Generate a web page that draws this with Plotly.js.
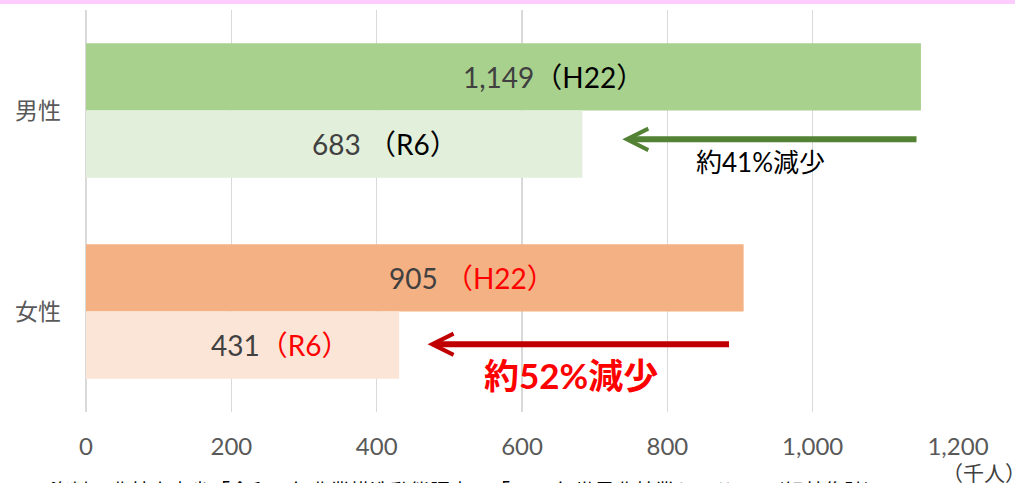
<!DOCTYPE html>
<html><head><meta charset="utf-8">
<script src="https://cdn.plot.ly/plotly-3.0.1.min.js"></script>
<style>html,body{margin:0;padding:0;background:#fff;}#chart{width:1015px;height:483px;}</style>
</head><body><div id="chart"></div>
<script>
const categories = ["男性", "女性"];
const seriesNames = ["H22", "R6"];
const valuesH22 = [1149, 905];
const valuesR6 = [683, 431];
const colorsH22 = ["#A9D18E", "#F4B183"];
const colorsR6 = ["#E2EFDA", "#FBE5D6"];
const xTicks = [0, 200, 400, 600, 800, 1000, 1200];
const xTickLabels = ["0", "200", "400", "600", "800", "1,000", "1,200"];
const reductionLabels = ["約41%減少", "約52%減少"];
const unitLabel = "（千人）";
const sourceText = "資料：農林水産省「令和６年農業構造動態調査」、「2010年世界農林業センサス」（組替集計）";

const fmt = v => v.toLocaleString("en-US");
const F = "Lato, 'Noto Sans CJK JP', sans-serif";

const traces = [
  {type:"bar", orientation:"h", name:seriesNames[0], y:categories, x:valuesH22,
   marker:{color:colorsH22}, hoverinfo:"none"},
  {type:"bar", orientation:"h", name:seriesNames[1], y:categories, x:valuesR6,
   marker:{color:colorsR6}, hoverinfo:"none"}
];

const off = 0.1675;
const ann = [
  {x:643, y:0-off, text:`<span style="color:#404040">${fmt(valuesH22[0])}</span><span style="color:#000">（${seriesNames[0]}）</span>`},
  {x:412, y:0+off, text:`<span style="color:#404040">${fmt(valuesR6[0])}</span><span style="color:#000"> （${seriesNames[1]}）</span>`},
  {x:531, y:1-off, text:`<span style="color:#404040">${fmt(valuesH22[1])}</span><span style="color:#FF0000"> （${seriesNames[0]}）</span>`},
  {x:267, y:1+off, text:`<span style="color:#404040">${fmt(valuesR6[1])}</span><span style="color:#FF0000">（${seriesNames[1]}）</span>`}
].map(a => Object.assign({xref:"x", yref:"y", showarrow:false, font:{family:F, size:28}}, a));

ann.push({xref:"x", yref:"y", x:928, y:0.257, text:reductionLabels[0], showarrow:false,
  font:{family:F, size:26, color:"#000"}});
ann.push({xref:"x", yref:"y", x:668, y:1.315, text:"<b>"+reductionLabels[1]+"</b>", showarrow:false,
  font:{family:F, size:35, color:"#FF0000"}});
// arrows
ann.push({xref:"x", yref:"y", axref:"x", ayref:"y", x:738, y:0.1436, ax:1145, ay:0.1436, text:"",
  showarrow:true, arrowhead:5, arrowsize:0.7, arrowwidth:6, arrowcolor:"#548235", standoff:0});
ann.push({xref:"x", yref:"y", axref:"x", ayref:"y", x:470, y:1.163, ax:887, ay:1.163, text:"",
  showarrow:true, arrowhead:5, arrowsize:0.7, arrowwidth:6, arrowcolor:"#C00000", standoff:0});
ann.push({xref:"paper", yref:"paper", x:1.03, y:-0.149, xanchor:"center", yanchor:"middle",
  text:unitLabel, showarrow:false, font:{family:"'Noto Sans CJK JP', sans-serif", size:21, color:"#404040"}});
ann.push({xref:"paper", yref:"paper", x:-0.044, y:-0.153, xanchor:"left", yanchor:"top",
  text:sourceText, showarrow:false, font:{family:"'Noto Sans CJK JP', sans-serif", size:20, color:"#000"}});

const layout = {
  width:1015, height:483,
  margin:{l:86, r:57, t:10, b:71, pad:0},
  paper_bgcolor:"#fff", plot_bgcolor:"#fff",
  barmode:"group", bargap:0.33, bargroupgap:0,
  showlegend:false,
  xaxis:{range:[0,1200], tickvals:xTicks, ticktext:xTickLabels, showgrid:true,
    gridcolor:"#D9D9D9", gridwidth:1.5, zeroline:true, zerolinecolor:"#D9D9D9", zerolinewidth:1.5,
    showline:false, ticks:"", ticklabelstandoff:18,
    tickfont:{family:F, size:24, color:"#595959"}, fixedrange:true},
  yaxis:{type:"category", autorange:"reversed", showgrid:false, zeroline:false, showline:false,
    ticks:"", ticklabelstandoff:24, tickfont:{family:"'Noto Sans CJK JP', sans-serif", size:23, color:"#595959"}, fixedrange:true},
  annotations:ann,
  shapes:[{type:"rect", xref:"paper", yref:"paper", x0:-0.2, x1:1.2, y0:1.0149, y1:1.05,
    fillcolor:"#FFCCFF", line:{width:0}, layer:"above"}]
};
Plotly.newPlot("chart", traces, layout, {displayModeBar:false, staticPlot:true});
</script></body></html>
